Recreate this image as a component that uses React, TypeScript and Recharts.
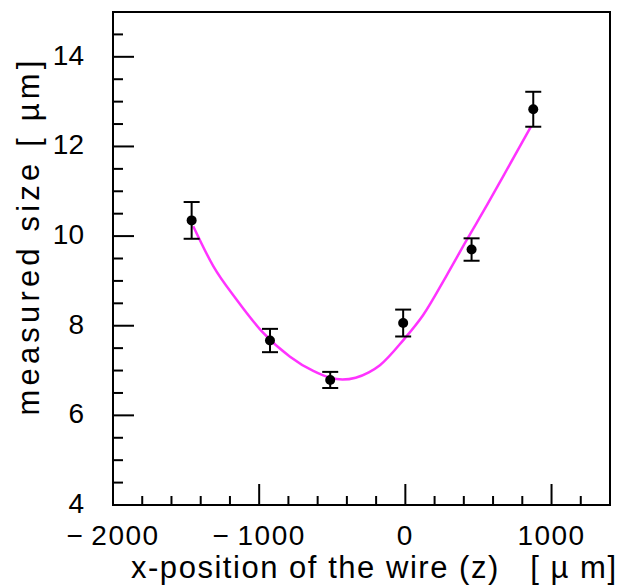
import React from 'react';
import {
  ComposedChart,
  XAxis,
  YAxis,
  Line,
  Scatter,
  ErrorBar,
  ReferenceArea,
  Label,
} from 'recharts';

// measured points (x in µm, size in µm, error)
const pointX = [-1462, -926, -514, -15, 453, 875];
const pointY = [10.35, 7.67, 6.79, 8.06, 9.7, 12.83];
const pointErr = [0.41, 0.26, 0.18, 0.3, 0.25, 0.39];

// fitted curve
const curveX = [-1451, -1314, -1154, -972, -789, -630, -516, -430, -340, -250, -174, -14, 122, 282, 421, 560, 670, 860];
const curveY = [10.22, 9.33, 8.58, 7.84, 7.31, 6.99, 6.84, 6.8, 6.84, 6.96, 7.12, 7.68, 8.24, 9.12, 9.92, 10.7, 11.34, 12.45];

// axis ticks
const xTicks = [-2000, -1800, -1600, -1400, -1200, -1000, -800, -600, -400, -200, 0, 200, 400, 600, 800, 1000, 1200];
const xMajor = [-2000, -1000, 0, 1000];
const yTicks = [4, 4.5, 5, 5.5, 6, 6.5, 7, 7.5, 8, 8.5, 9, 9.5, 10, 10.5, 11, 11.5, 12, 12.5, 13, 13.5, 14, 14.5];
const yMajor = [4, 6, 8, 10, 12, 14];

const xLabel = 'x-position of the wire (z)   [ µ m]';
const yLabel = 'measured size [ µm]';

const points = pointX.map((x, i) => ({ x, y: pointY[i], err: pointErr[i] }));
const curve = curveX.map((x, i) => ({ x, y: curveY[i] }));

const FONT = '"Liberation Sans", Arial, Helvetica, sans-serif';

const fmt = (v: number) => (v < 0 ? '\u2212\u2009' + Math.abs(v) : String(v));

const XTick = (props: any) => {
  const { x, y, payload } = props;
  const major = xMajor.includes(payload.value);
  return (
    <g>
      <line x1={x} x2={x} y1={y} y2={y - (major ? 21 : 9)} stroke="#000" strokeWidth={2} />
      {major && (
        <text
          x={x}
          y={y + 40}
          textAnchor="middle"
          fontFamily={FONT}
          fontSize={28}
          letterSpacing={1.5}
          fill="#000"
        >
          {fmt(payload.value)}
        </text>
      )}
    </g>
  );
};

const YTick = (props: any) => {
  const { x, y, payload } = props;
  const major = yMajor.includes(payload.value);
  return (
    <g>
      <line x1={x} x2={x + (major ? 21 : 10)} y1={y} y2={y} stroke="#000" strokeWidth={2} />
      {major && (
        <text x={x - 29} y={y + 8} textAnchor="end" fontFamily={FONT} fontSize={28} fill="#000">
          {fmt(payload.value)}
        </text>
      )}
    </g>
  );
};

const Dot = (props: any) => {
  const { cx, cy } = props;
  return <circle cx={cx} cy={cy} r={5} fill="#000" />;
};

export default function App() {
  return (
    <div style={{ position: 'absolute', left: 0, top: 0, background: '#fff' }}>
      <ComposedChart
        width={618}
        height={585}
        margin={{ top: 12, right: 8, bottom: 0, left: 0 }}
        style={{ background: '#fff' }}
      >
        <XAxis
          type="number"
          dataKey="x"
          domain={[-2000, 1400]}
          ticks={xTicks}
          interval={0}
          tick={<XTick />}
          tickLine={false}
          axisLine={false}
          tickSize={0}
          tickMargin={0}
          height={80}
          allowDataOverflow
        >
          <Label
            content={(p: any) => {
              const vb = p.viewBox;
              return (
                <text
                  x={vb.x + 18}
                  y={vb.y + 73}
                  fontFamily={FONT}
                  fontSize={31}
                  fill="#000"
                  textLength={485}
                  lengthAdjust="spacing"
                  xmlSpace="preserve"
                  style={{ whiteSpace: 'pre' }}
                >
                  {xLabel}
                </text>
              );
            }}
          />
        </XAxis>
        <YAxis
          type="number"
          domain={[4, 15]}
          ticks={yTicks}
          interval={0}
          tick={<YTick />}
          tickLine={false}
          axisLine={false}
          tickSize={0}
          tickMargin={0}
          width={113}
          allowDataOverflow
        >
          <Label
            content={(p: any) => {
              const vb = p.viewBox;
              const cy = vb.y + 226;
              return (
                <text
                  x={39}
                  y={cy}
                  transform={`rotate(-90, 39, ${cy})`}
                  textAnchor="middle"
                  fontFamily={FONT}
                  fontSize={31}
                  fill="#000"
                  textLength={355}
                  lengthAdjust="spacing"
                  xmlSpace="preserve"
                  style={{ whiteSpace: 'pre' }}
                >
                  {yLabel}
                </text>
              );
            }}
          />
        </YAxis>
        <ReferenceArea x1={-2000} x2={1400} y1={4} y2={15} fill="none" stroke="#000" strokeWidth={2} fillOpacity={0} />
        <Line
          data={curve}
          dataKey="y"
          type="monotone"
          stroke="#ff33ff"
          strokeWidth={2.5}
          dot={false}
          activeDot={false}
          isAnimationActive={false}
        />
        <Scatter data={points} dataKey="y" shape={<Dot />} isAnimationActive={false}>
          <ErrorBar dataKey="err" direction="y" width={8} stroke="#000" strokeWidth={2} isAnimationActive={false} />
        </Scatter>
      </ComposedChart>
    </div>
  );
}
